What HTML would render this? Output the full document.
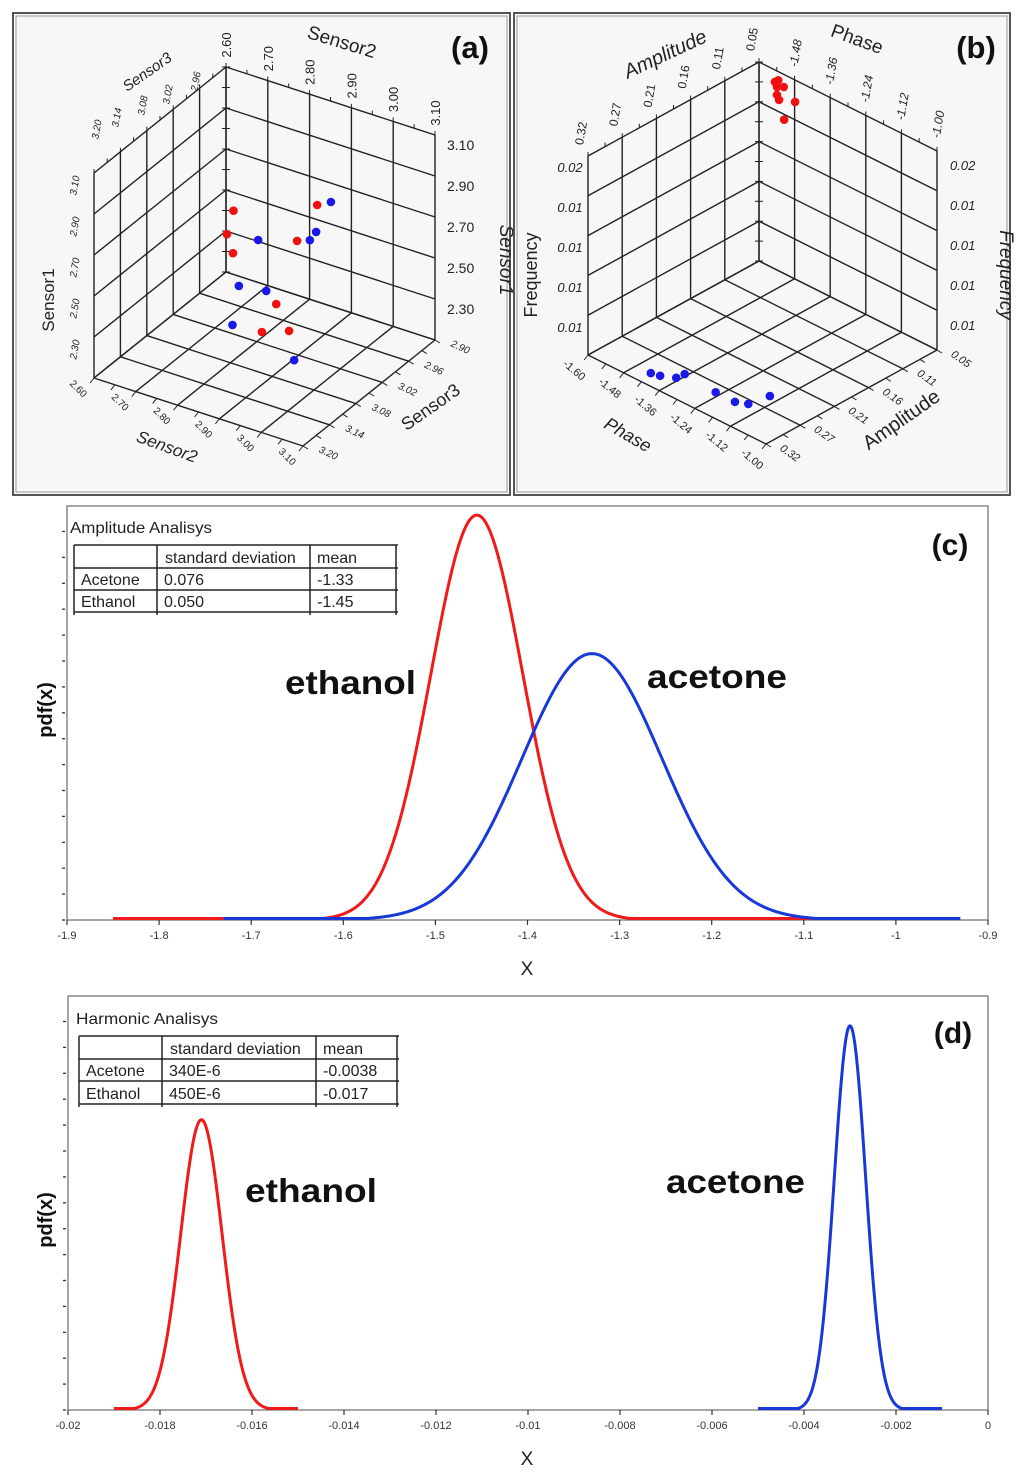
<!DOCTYPE html>
<html><head><meta charset="utf-8">
<style>
html,body{margin:0;padding:0;background:#fff;}
svg{display:block;font-family:"Liberation Sans",sans-serif;}
</style></head>
<body>
<svg id="fig" width="1024" height="1481" viewBox="0 0 1024 1481" xmlns="http://www.w3.org/2000/svg">
<rect x="0" y="0" width="1024" height="1481" fill="#fff"/>
<g id="pa"></g>
<g id="pb"></g>
<g id="pc"></g>
<g id="pd"></g>
</svg>
<script>
// ---------- Panel (a) data ----------
const aSensor2Red=[2.700,2.717,2.724,2.874,2.829,2.797,2.810,2.854];
const aSensor3Red=[2.978,3.009,3.002,2.953,2.956,2.973,3.018,2.998];
const aSensor1Red=[2.60,2.55,2.45,2.70,2.50,2.20,2.15,2.15];
const aSensor2Blue=[2.891,2.864,2.849,2.739,2.695,2.752,2.745,2.903];
const aSensor3Blue=[2.938,2.946,2.946,2.959,2.961,2.953,3.023,3.033];
const aSensor1Blue=[2.70,2.55,2.50,2.45,2.20,2.20,2.15,2.10];
const aRightTicks=["3.10","2.90","2.70","2.50","2.30"];
const aTopTicks=["2.60","2.70","2.80","2.90","3.00","3.10"];
const aBotTicks=["2.60","2.70","2.80","2.90","3.00","3.10"];
const aS3Ticks=["2.90","2.96","3.02","3.08","3.14","3.20"];
const aLeftTicks=["3.10","2.90","2.70","2.50","2.30"];
// ---------- Panel (b) data ----------
const bPhaseRed=[-1.540,-1.533,-1.508,-1.533,-1.533,-1.526,-1.472,-1.511];
const bAmpRed=[0.053,0.051,0.054,0.053,0.053,0.053,0.053,0.052];
const bFreqRed=[0.0195,0.0196,0.0195,0.0193,0.0189,0.0187,0.0190,0.0178];
const bPhaseBlue=[-1.431,-1.406,-1.371,-1.368,-1.255,-1.190,-1.160,-1.147];
const bAmpBlue=[0.300,0.297,0.288,0.276,0.280,0.280,0.273,0.245];
const bFreqBlue=[0.010,0.010,0.010,0.010,0.010,0.010,0.010,0.010];
const bFreqTicks=["0.02","0.01","0.01","0.01","0.01"];
const bPhaseTicks=["-1.60","-1.48","-1.36","-1.24","-1.12","-1.00"];
const bAmpTicks=["0.05","0.11","0.16","0.21","0.27","0.32"];
// ---------- Panel (c) data ----------
const cNames=["ethanol","acetone"];
const cMeans=[-1.455,-1.33];
const cSds=[0.050,0.076];
const cFrom=[-1.85,-1.73];
const cTo=[-1.09,-0.93];
const cXTicks=[-1.9,-1.8,-1.7,-1.6,-1.5,-1.4,-1.3,-1.2,-1.1,-1,-0.9];
const cTableRows=[["Acetone","0.076","-1.33"],["Ethanol","0.050","-1.45"]];
// ---------- Panel (d) data ----------
const dNames=["ethanol","acetone"];
const dMeans=[-0.0171,-0.0030];
const dSds=[0.00045,0.00034];
const dFrom=[-0.019,-0.005];
const dTo=[-0.015,-0.001];
const dXTicks=[-0.02,-0.018,-0.016,-0.014,-0.012,-0.01,-0.008,-0.006,-0.004,-0.002,0];
const dTableRows=[["Acetone","340E-6","-0.0038"],["Ethanol","450E-6","-0.017"]];

const NS="http://www.w3.org/2000/svg";
function el(parent,tag,attrs,text){const e=document.createElementNS(NS,tag);for(const k in attrs)e.setAttribute(k,attrs[k]);if(text!==undefined)e.textContent=text;parent.appendChild(e);return e;}
function line(g,x1,y1,x2,y2,w,c){return el(g,"line",{x1:x1,y1:y1,x2:x2,y2:y2,stroke:c||"#222","stroke-width":w||1.4});}
function txt(g,x,y,s,size,opts){opts=opts||{};const a={x:x,y:y,"font-size":size,fill:opts.fill||"#222","text-anchor":opts.anchor||"middle"};
 if(opts.rot!==undefined)a.transform="rotate("+opts.rot+" "+x+" "+y+")";
 if(opts.bold)a["font-weight"]="bold"; if(opts.italic)a["font-style"]="italic";
 if(opts.len){a.textLength=opts.len;a.lengthAdjust="spacingAndGlyphs";}
 const t=el(g,"text",a,s);return t;}

// ---------- 3D cube panel ----------
function cube(g,box,C,R,L,H,ndiv){
 el(g,"rect",{x:box[0],y:box[1],width:box[2],height:box[3],fill:"#f7f7f7",stroke:"#555","stroke-width":2});
 el(g,"rect",{x:box[0]+3,y:box[1]+3,width:box[2]-6,height:box[3]-6,fill:"none",stroke:"#999","stroke-width":1});
 const P=(a,b,c)=>[C[0]+a*(R[0]-C[0])+b*(L[0]-C[0]), C[1]+a*(R[1]-C[1])+b*(L[1]-C[1])-c*H];
 for(let i=0;i<=ndiv;i++){const f=i/ndiv;
  let p=P(f,0,0),q=P(f,0,1);line(g,p[0],p[1],q[0],q[1]);
  p=P(0,f,0);q=P(0,f,1);line(g,p[0],p[1],q[0],q[1]);
  p=P(0,0,f);q=P(1,0,f);line(g,p[0],p[1],q[0],q[1]);
  p=P(0,0,f);q=P(0,1,f);line(g,p[0],p[1],q[0],q[1]);
  p=P(f,0,0);q=P(f,1,0);line(g,p[0],p[1],q[0],q[1]);
  p=P(0,f,0);q=P(1,f,0);line(g,p[0],p[1],q[0],q[1]);
 }
 for(let i=0;i<=ndiv*2;i++){const f=i/(ndiv*2);
  let p=P(0,0,f);line(g,p[0]-4,p[1],p[0]+4,p[1],1);
  p=P(f,1,0);line(g,p[0],p[1],p[0]-4,p[1]+5,1);
  p=P(1,f,0);line(g,p[0],p[1],p[0]+5,p[1]+3,1);
  p=P(f,0,1);line(g,p[0],p[1],p[0],p[1]-4,1);
  p=P(0,f,1);line(g,p[0],p[1],p[0],p[1]-4,1);
 }
 return P;
}
function dot(g,x,y,col,name){const c=el(g,"circle",{cx:x,cy:y,r:4.3,fill:col});
 
 }

// Panel a
(function(){
 const g=document.getElementById("pa");
 const P=cube(g,[13,13,497,482],[226,272],[435,340],[94,378],205,5);
 const ax=v=>(v-2.60)/0.5, bx=v=>(v-2.90)/0.30, cx=v=>(v-2.10)/1.0;
 for(let i=0;i<aSensor2Red.length;i++){const p=P(ax(aSensor2Red[i]),bx(aSensor3Red[i]),cx(aSensor1Red[i]));dot(g,p[0],p[1],"#f01010","point-red");}
 for(let i=0;i<aSensor2Blue.length;i++){const p=P(ax(aSensor2Blue[i]),bx(aSensor3Blue[i]),cx(aSensor1Blue[i]));dot(g,p[0],p[1],"#1a18e6","point-blue");}
 aRightTicks.forEach((s,i)=>{txt(g,447,150+i*41,s,14,{anchor:"start"});});
 aTopTicks.forEach((s,i)=>{const p=P(i/5,0,1);txt(g,p[0]+5,p[1]-22,s,13,{rot:-90});});
 aLeftTicks.forEach((s,i)=>{txt(g,78,186+i*41,s,10,{rot:-80,italic:true});});
 aBotTicks.forEach((s,i)=>{const p=P(i/5,1,0);txt(g,p[0]-18,p[1]+13,s,10,{rot:45});});
 aS3Ticks.forEach((s,i)=>{const p=P(1,i/5,0);txt(g,p[0]+24,p[1]+10,s,10,{rot:25,italic:true});});
 [["3.20",100,130],["3.14",120,118],["3.08",146,106],["3.02",171,95],["2.96",199,82]].forEach(a=>txt(g,a[1],a[2],a[0],10,{rot:-80,italic:true}));
 txt(g,340,48,"Sensor2",19,{rot:17});
 txt(g,150,76,"Sensor3",15,{rot:-35,italic:true});
 txt(g,500,260,"Sensor1",19,{rot:90,italic:true});
 txt(g,54,300,"Sensor1",17,{rot:-90});
 txt(g,165,452,"Sensor2",17,{rot:20,italic:true});
 txt(g,434,412,"Sensor3",18,{rot:-35});
 const t=txt(g,470,58,"(a)",31,{bold:true,fill:"#111"});
 
})();

// Panel b
(function(){
 const g=document.getElementById("pb");
 const P=cube(g,[514,13,496,482],[759,261],[937,350],[588,355],199,5);
 const ax=v=>(v+1.60)/0.6, bx=v=>(v-0.05)/0.27, cx=v=>(v-0.010)/0.010;
 for(let i=0;i<bPhaseRed.length;i++){const p=P(ax(bPhaseRed[i]),bx(bAmpRed[i]),cx(bFreqRed[i]));dot(g,p[0],p[1],"#f01010","point-red");}
 for(let i=0;i<bPhaseBlue.length;i++){const p=P(ax(bPhaseBlue[i]),bx(bAmpBlue[i]),cx(bFreqBlue[i]));dot(g,p[0],p[1],"#1a18e6","point-blue");}
 bFreqTicks.forEach((s,i)=>{txt(g,950,170+i*40,s,13,{anchor:"start",italic:true});txt(g,570,172+i*40,s,13,{italic:true});});
 bPhaseTicks.forEach((s,i)=>{if(i>0){const p=P(i/5,0,1);txt(g,p[0]+5,p[1]-26,s,12,{rot:-80,italic:true});}
   const q=P(i/5,1,0);txt(g,q[0]-16,q[1]+18,s,11,{rot:40});});
 bAmpTicks.forEach((s,i)=>{const p=P(0,i/5,1);txt(g,p[0]-3,p[1]-22,s,12,{rot:-80});
   const q=P(1,i/5,0);txt(g,q[0]+22,q[1]+12,s,11,{rot:35,italic:true});});
 txt(g,668,60,"Amplitude",20,{rot:-25,italic:true});
 txt(g,855,45,"Phase",19,{rot:20});
 txt(g,537,275,"Frequency",18,{rot:-90});
 txt(g,1000,275,"Frequency",19,{rot:90,italic:true});
 txt(g,625,440,"Phase",18,{rot:30,italic:true});
 txt(g,905,425,"Amplitude",20,{rot:-35});
 const t=txt(g,976,58,"(b)",31,{bold:true,fill:"#111"});
 
})();

// ---------- pdf panel ----------
function pdfPanel(g,cfg){
 const {L,Rr,T,B,xmin,xmax}=cfg;
 const X=v=>L+(v-xmin)/(xmax-xmin)*(Rr-L);
 const Y=p=>B-p*cfg.pxPerUnit;
 el(g,"rect",{x:L,y:T,width:Rr-L,height:B-T,fill:"#fff",stroke:"#777","stroke-width":1.3});
 for(let y=B;y>=T;y-=cfg.ytickPx) line(g,L-5,y,L-2,y,1.3,"#333");
 cfg.xticks.forEach(v=>{const x=X(v);line(g,x,B,x,B+5,1.2,"#333");
  txt(g,x,B+19,String(v),11,{fill:"#333"});});
 txt(g,527,B+55,"X",19,{fill:"#222"});
 txt(g,52,cfg.pdfY,"pdf(x)",20,{rot:-90,bold:true,fill:"#111"});
 const cols=["#f01a1a","#1639d8"], names=cfg.names;
 for(let k=0;k<cfg.means.length;k++){
  let d="";const n=400;
  for(let i=0;i<=n;i++){const v=cfg.from[k]+(cfg.to[k]-cfg.from[k])*i/n;const z=(v-cfg.means[k])/cfg.sds[k];
   const p=Math.exp(-0.5*z*z)/(cfg.sds[k]*Math.sqrt(2*Math.PI));d+=(i?"L":"M")+X(v).toFixed(2)+" "+Math.min(Y(p),B-1.5).toFixed(2);}
  const pth=el(g,"path",{d:d,fill:"none",stroke:cols[k],"stroke-width":3,"stroke-linejoin":"round"});
  
  
 }
 cfg.labels.forEach(l=>txt(g,l[1],l[2],l[0],33,{bold:true,anchor:"start",fill:"#111",len:l[3]}));
 txt(g,cfg.title[1],cfg.title[2],cfg.title[0],16,{anchor:"start",fill:"#222",len:142});
 const tb=cfg.table, cx=tb.cols, ry=tb.rows;
 for(let i=0;i<4;i++) line(g,cx[0],ry[i],cx[3]+2,ry[i],1.5);
 cx.forEach(x=>line(g,x,ry[0],x,ry[3]+3,1.5));
 txt(g,cx[1]+8,ry[1]-5,"standard deviation",16,{anchor:"start"});
 txt(g,cx[2]+7,ry[1]-5,"mean",16,{anchor:"start"});
 tb.data.forEach((r,i)=>{txt(g,cx[0]+7,ry[i+2]-5,r[0],16,{anchor:"start"});txt(g,cx[1]+7,ry[i+2]-5,r[1],16,{anchor:"start"});txt(g,cx[2]+7,ry[i+2]-5,r[2],16,{anchor:"start"});});
 txt(g,cfg.tag[1],cfg.tag[2],cfg.tag[0],30,{bold:true,fill:"#111"});
}
pdfPanel(document.getElementById("pc"),{L:67,Rr:988,T:506,B:920,xmin:-1.9,xmax:-0.9,pxPerUnit:50.75,ytickPx:25.9,
 xticks:cXTicks,means:cMeans,sds:cSds,from:cFrom,to:cTo,names:cNames,pdfY:710,
 labels:[["ethanol",285,694,131],["acetone",647,688,140]],title:["Amplitude Analisys",70,533],
 table:{cols:[74,157,310,396],rows:[545,568,590,612],data:cTableRows},tag:["(c)",950,555]});
pdfPanel(document.getElementById("pd"),{L:68,Rr:988,T:996,B:1410,xmin:-0.02,xmax:0,pxPerUnit:0.3274,ytickPx:25.9,
 xticks:dXTicks,means:dMeans,sds:dSds,from:dFrom,to:dTo,names:dNames,pdfY:1220,
 labels:[["ethanol",245,1202,132],["acetone",666,1193,139]],title:["Harmonic Analisys",76,1024],
 table:{cols:[79,162,316,397],rows:[1036,1059,1081,1104],data:dTableRows},tag:["(d)",953,1043]});
</script>
</body></html>
